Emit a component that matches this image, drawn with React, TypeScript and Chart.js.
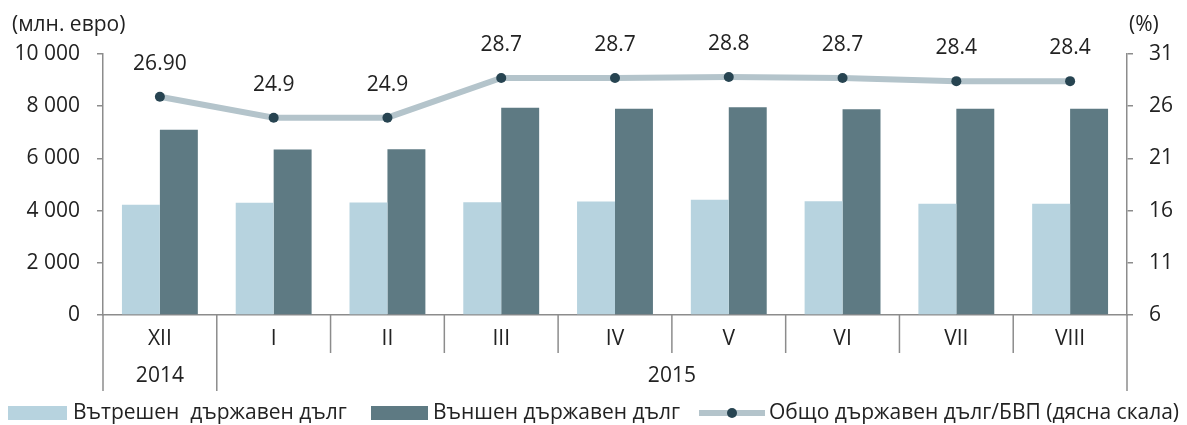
import React, { useEffect, useRef } from 'react';
import { Chart, registerables } from 'chart.js';

Chart.register(...registerables);

const months = ['XII', 'I', 'II', 'III', 'IV', 'V', 'VI', 'VII', 'VIII'];
const yearLabels = ['2014', '2015'];
const yearStart = [0, 1];
const yearEnd = [0, 8];

const domesticDebt = [4220, 4300, 4310, 4320, 4350, 4420, 4360, 4260, 4260];
const externalDebt = [7100, 6340, 6350, 7940, 7900, 7960, 7880, 7900, 7900];
const debtToGdp = [26.9, 24.9, 24.9, 28.7, 28.7, 28.8, 28.7, 28.4, 28.4];
const debtToGdpLabels = ['26.90', '24.9', '24.9', '28.7', '28.7', '28.8', '28.7', '28.4', '28.4'];

const seriesNames = [
  'Вътрешен  държавен дълг',
  'Външен държавен дълг',
  'Общо държавен дълг/БВП (дясна скала)',
];
const leftTitle = '(млн. евро)';
const rightTitle = '(%)';

const FONT = '"Open Sans", "Noto Sans", sans-serif';
const FS = 21;
const TEXT = '#222222';
const AXIS = '#8c8c8c';
const LIGHT = '#b7d3df';
const DARK = '#5e7a83';
const LINE = '#b4c4cb';
const DOT = '#274451';

const fmt = (v: number) => String(v).replace(/\B(?=(\d{3})+(?!\d))/g, ' ');

const decor = {
  id: 'decor',
  afterDatasetsDraw(chart: any) {
    const { ctx } = chart;
    const meta = chart.getDatasetMeta(2);
    ctx.save();
    ctx.font = `${FS}px ${FONT}`;
    ctx.fillStyle = TEXT;
    ctx.textAlign = 'center';
    ctx.textBaseline = 'middle';
    meta.data.forEach((pt: any, i: number) => {
      ctx.fillText(debtToGdpLabels[i], pt.x, pt.y - 33);
    });
    ctx.restore();
  },
  afterDraw(chart: any) {
    const { ctx, chartArea: ca, scales } = chart;
    const x = scales.x;
    const n = months.length;
    ctx.save();
    const bounds: number[] = [];
    for (let i = 0; i <= n; i++) {
      if (i === 0) bounds.push(ca.left);
      else if (i === n) bounds.push(ca.right);
      else bounds.push((x.getPixelForValue(i - 1) + x.getPixelForValue(i)) / 2);
    }
    const yearBounds = new Set<number>([0, ...yearEnd.map((e) => e + 1)]);
    ctx.strokeStyle = AXIS;
    ctx.lineWidth = 1.5;
    bounds.forEach((bx, i) => {
      ctx.beginPath();
      ctx.moveTo(bx, ca.bottom);
      ctx.lineTo(bx, ca.bottom + (yearBounds.has(i) ? 76 : 38));
      ctx.stroke();
    });
    ctx.font = `${FS}px ${FONT}`;
    ctx.fillStyle = TEXT;
    ctx.textAlign = 'center';
    ctx.textBaseline = 'middle';
    yearLabels.forEach((lab, k) => {
      const cx = (bounds[yearStart[k]] + bounds[yearEnd[k] + 1]) / 2;
      ctx.fillText(lab, cx, ca.bottom + 61);
    });
    ctx.textAlign = 'left';
    ctx.fillText(leftTitle, 12, 25);
    ctx.fillText(rightTitle, 1129, 25);
    const ly = 413;
    ctx.fillStyle = LIGHT;
    ctx.fillRect(8, ly - 7, 59, 14);
    ctx.fillStyle = DARK;
    ctx.fillRect(371, ly - 7, 57, 14);
    ctx.strokeStyle = LINE;
    ctx.lineWidth = 6;
    ctx.beginPath();
    ctx.moveTo(699, ly);
    ctx.lineTo(765, ly);
    ctx.stroke();
    ctx.fillStyle = DOT;
    ctx.beginPath();
    ctx.arc(732, ly, 5, 0, Math.PI * 2);
    ctx.fill();
    ctx.fillStyle = TEXT;
    ctx.textAlign = 'left';
    ctx.fillText(seriesNames[0], 73, ly);
    ctx.fillText(seriesNames[1], 433, ly);
    ctx.fillText(seriesNames[2], 769, ly);
    ctx.restore();
  },
};

export default function App() {
  const ref = useRef<HTMLCanvasElement | null>(null);
  useEffect(() => {
    if (!ref.current) return;
    Chart.defaults.font.family = FONT;
    Chart.defaults.font.size = FS;
    Chart.defaults.color = TEXT;
    const chart = new Chart(ref.current, {
      type: 'bar',
      data: {
        labels: months,
        datasets: [
          {
            type: 'bar',
            label: seriesNames[0],
            data: domesticDebt,
            backgroundColor: LIGHT,
            yAxisID: 'y',
            categoryPercentage: 0.667,
            barPercentage: 1,
            order: 1,
          },
          {
            type: 'bar',
            label: seriesNames[1],
            data: externalDebt,
            backgroundColor: DARK,
            yAxisID: 'y',
            categoryPercentage: 0.667,
            barPercentage: 1,
            order: 1,
          },
          {
            type: 'line',
            label: seriesNames[2],
            data: debtToGdp,
            borderColor: LINE,
            borderWidth: 6,
            pointRadius: 5,
            pointBackgroundColor: DOT,
            pointBorderWidth: 0,
            tension: 0,
            yAxisID: 'y1',
            order: 0,
          } as any,
        ],
      },
      options: {
        responsive: false,
        animation: false,
        layout: { padding: { top: 54, left: 0, right: 0, bottom: 0 } },
        plugins: {
          legend: { display: false },
          tooltip: { enabled: false },
        },
        scales: {
          x: {
            offset: true,
            grid: { display: true, drawOnChartArea: false, drawTicks: false },
            border: { display: true, color: AXIS, width: 1.5 },
            ticks: { padding: 11, color: TEXT, font: { size: FS } },
            afterFit: (s: any) => {
              s.height = 425 - 315;
            },
          },
          y: {
            position: 'left',
            min: 0,
            max: 10000,
            ticks: { stepSize: 2000, padding: 17, color: TEXT, callback: (v: any) => fmt(Number(v)) },
            grid: { drawOnChartArea: false, drawTicks: true, tickLength: 6, color: AXIS, lineWidth: 1.5 },
            border: { display: true, color: AXIS, width: 1.5 },
            afterFit: (s: any) => {
              s.width = 103;
            },
          },
          y1: {
            position: 'right',
            min: 6,
            max: 31,
            ticks: { stepSize: 5, padding: 16, color: TEXT },
            grid: { drawOnChartArea: false, drawTicks: true, tickLength: 6, color: AXIS, lineWidth: 1.5 },
            border: { display: true, color: AXIS, width: 1.5 },
            afterFit: (s: any) => {
              s.width = 1187 - 1127;
            },
          },
        },
      },
      plugins: [decor],
    });
    return () => chart.destroy();
  }, []);
  return (
    <div style={{ position: 'absolute', left: 0, top: 0, width: 1187, height: 425, background: '#fff' }}>
      <canvas ref={ref} width={1187} height={425} style={{ display: 'block' }} />
    </div>
  );
}
